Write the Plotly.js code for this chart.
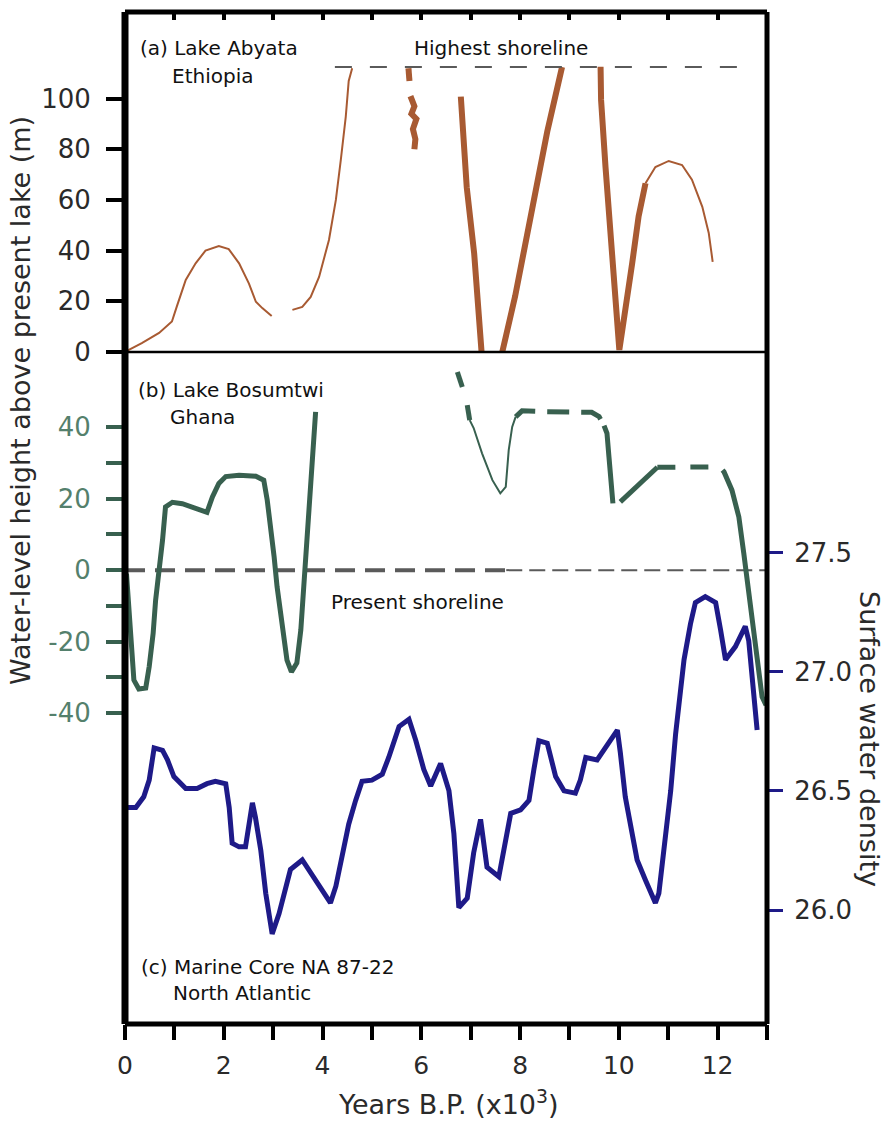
<!DOCTYPE html>
<html>
<head>
<meta charset="utf-8">
<script src="https://cdn.plot.ly/plotly-3.0.1.min.js"></script>
<style>html,body{margin:0;padding:0;background:#fff;}</style>
</head>
<body>
<div id="chart" style="width:888px;height:1123px;"></div>
<script>
// ---------- DATA ----------
// (a) Lake Abyata, Ethiopia  — water level (m above present lake)
const abyataThin1X = [0, 0.34, 0.69, 0.95, 1.05, 1.23, 1.43, 1.63, 1.90, 2.10, 2.31, 2.51, 2.65, 2.78, 2.97];
const abyataThin1Y = [0, 3.5, 7.5, 12, 18, 28.4, 35, 40, 41.8, 40.6, 35, 27, 19.8, 17.3, 14.2];
const abyataThin2X = [3.39, 3.59, 3.76, 3.93, 4.13, 4.27, 4.37, 4.47, 4.53, 4.60];
const abyataThin2Y = [16.6, 17.8, 21.7, 29.6, 44.2, 60, 75.8, 92.8, 107, 112];
const abyataThickAX = [5.74, 5.76];
const abyataThickAY = [112, 107];
const abyataThickBX = [5.78, 5.86, 5.80, 5.90, 5.83, 5.88, 5.86];
const abyataThickBY = [101, 97, 94, 92, 88, 84, 80];
const abyataThickCX = [6.80, 6.82, 6.92, 7.07, 7.17, 7.22];
const abyataThickCY = [100.8, 95.5, 65, 39, 14, 0];
const abyataThickDX = [7.64, 7.90, 8.25, 8.55, 8.85];
const abyataThickDY = [0, 22, 57, 87, 112.5];
const abyataThickEX = [9.63, 9.64, 9.73, 9.83, 9.93, 10.01, 10.08, 10.17, 10.27, 10.40, 10.54];
const abyataThickEY = [112.6, 99.5, 73, 47, 20.5, 0.8, 10, 20.5, 35, 53.5, 66.6];
const abyataThin3X = [10.54, 10.74, 11.01, 11.28, 11.48, 11.69, 11.82, 11.90];
const abyataThin3Y = [66.6, 73, 75.4, 73.8, 68, 57.3, 47, 35.6];
const highestShorelineX = [4.25, 12.75];
const highestShorelineY = [112.5, 112.5];

// (b) Lake Bosumtwi, Ghana — water level (m relative to present shoreline)
const bosumtwi1X = [0.03, 0.08, 0.12, 0.18, 0.28, 0.42, 0.49, 0.57, 0.62, 0.70, 0.76, 0.82, 0.96, 1.16, 1.43, 1.66, 1.77, 1.90, 2.04, 2.31, 2.65, 2.81, 2.88, 2.95, 3.02, 3.08, 3.18, 3.28, 3.37, 3.48, 3.56, 3.62, 3.69, 3.76, 3.81, 3.85, 3.86];
const bosumtwi1Y = [-1, -12, -22.4, -30.8, -33.3, -33, -27, -17.7, -8.4, 0, 8.4, 17.7, 19, 18.6, 17.1, 16.2, 20.5, 24.3, 26.2, 26.6, 26.3, 25.2, 19.6, 12.1, 3.7, -4.7, -14.9, -25.2, -28.5, -26, -16.8, -4.7, 8.4, 20.5, 30, 39.2, 44.3];
const bosumtwi2X = [6.73, 6.83];
const bosumtwi2Y = [55.5, 51.3];
const bosumtwi3X = [6.93, 6.98];
const bosumtwi3Y = [46.2, 42];
const bosumtwiThinX = [6.98, 7.06, 7.23, 7.44, 7.60, 7.71, 7.77, 7.84, 7.91];
const bosumtwiThinY = [42, 39.8, 32.7, 25.2, 21.5, 23.3, 33.6, 40.1, 42.9];
const bosumtwiDash1X = [7.91, 8.04, 8.5, 9.0, 9.45, 9.60, 9.70];
const bosumtwiDash1Y = [42.9, 44.6, 44.4, 44.4, 44.2, 43, 40.5];
const bosumtwi4X = [9.70, 9.76, 9.80, 9.85, 9.88];
const bosumtwi4Y = [40.5, 38.3, 31.7, 25.2, 18.7];
const bosumtwi5X = [10.03, 10.40, 10.78];
const bosumtwi5Y = [19.1, 24, 28.8];
const bosumtwiDash2X = [10.78, 11.3, 11.95];
const bosumtwiDash2Y = [28.8, 28.9, 28.9];
const bosumtwi6X = [12.10, 12.13, 12.29, 12.43, 12.53, 12.60, 12.70, 12.80, 12.90, 12.98];
const bosumtwi6Y = [28, 27.5, 22.4, 14.9, 4.7, -2.8, -14, -25.2, -35.5, -37.8];
const presentShorelineAX = [0, 7.7];
const presentShorelineAY = [0, 0];
const presentShorelineBX = [7.72, 13];
const presentShorelineBY = [0, 0];

// (c) Marine core NA 87-22, North Atlantic — surface water density
const marineX = [0.02, 0.22, 0.38, 0.49, 0.59, 0.76, 0.86, 0.99, 1.23, 1.46, 1.66, 1.83, 2.04, 2.11, 2.17, 2.31, 2.44, 2.58, 2.64, 2.75, 2.85, 2.98, 3.12, 3.25, 3.35, 3.59, 3.79, 4.00, 4.16, 4.27, 4.40, 4.53, 4.67, 4.80, 5.00, 5.21, 5.34, 5.55, 5.75, 5.89, 6.05, 6.19, 6.39, 6.56, 6.66, 6.76, 6.93, 7.06, 7.20, 7.33, 7.57, 7.71, 7.81, 8.01, 8.18, 8.28, 8.38, 8.55, 8.72, 8.89, 9.12, 9.22, 9.33, 9.56, 9.73, 9.97, 10.03, 10.13, 10.27, 10.37, 10.54, 10.74, 10.81, 10.95, 11.05, 11.15, 11.25, 11.32, 11.45, 11.55, 11.75, 11.96, 12.06, 12.16, 12.36, 12.56, 12.63, 12.70, 12.80];
const marineY = [26.43, 26.43, 26.475, 26.545, 26.68, 26.67, 26.63, 26.56, 26.51, 26.51, 26.53, 26.54, 26.53, 26.43, 26.28, 26.265, 26.265, 26.45, 26.39, 26.25, 26.07, 25.90, 25.985, 26.10, 26.17, 26.21, 26.15, 26.08, 26.03, 26.10, 26.24, 26.36, 26.46, 26.54, 26.545, 26.57, 26.64, 26.77, 26.80, 26.71, 26.59, 26.52, 26.615, 26.50, 26.32, 26.01, 26.05, 26.24, 26.38, 26.18, 26.14, 26.29, 26.405, 26.42, 26.46, 26.59, 26.71, 26.70, 26.56, 26.50, 26.49, 26.545, 26.64, 26.63, 26.685, 26.755, 26.66, 26.475, 26.32, 26.21, 26.125, 26.03, 26.07, 26.32, 26.50, 26.74, 26.92, 27.05, 27.20, 27.29, 27.315, 27.29, 27.175, 27.05, 27.105, 27.19, 27.13, 26.99, 26.755];

// tick values and labels
const xTickVals = [0, 2, 4, 6, 8, 10, 12];
const xTickText = ['0', '2', '4', '6', '8', '10', '12'];
const xMinorVals = [1, 3, 5, 7, 9, 11, 13];
const xTopTickVals = [1, 2, 3, 4, 5, 6, 7, 8, 9, 10, 11, 12];
const aTickVals = [0, 20, 40, 60, 80, 100];
const bTickVals = [-40, -20, 0, 20, 40];
const bTickText = ['-40', '-20', '0', '20', '40'];
const bMinorVals = [-30, -10, 10, 30];
const cTickVals = [26.0, 26.5, 27.0, 27.5];
const cTickText = ['26.0', '26.5', '27.0', '27.5'];

// ---------- STYLE ----------
const FONT = 'DejaVu Sans, Verdana, Arial, sans-serif';
const BROWN = '#a85a32';
const GREEN = '#38604f';
const GREEN_LBL = '#54806c';
const NAVY = '#1e1a88';
const GRAY = '#5a5a5a';
const LBL = '#2a2a2a';

const L = 125, R = 121, T = 12, B = 99, W = 888 - L - R, H = 1123 - T - B;
const px = v => (v - L) / W;
const py = v => (1123 - B - v) / H;

function line(x, y, color, width, axis, dash, xa) {
  return {x: x, y: y, type: 'scatter', mode: 'lines', xaxis: xa || 'x', yaxis: axis,
          line: {color: color, width: width, dash: dash || 'solid'}, hoverinfo: 'skip'};
}

const traces = [
  line(highestShorelineX, highestShorelineY, GRAY, 2, 'y', '17px,18px', 'x2'),
  line(abyataThin1X, abyataThin1Y, BROWN, 2, 'y'),
  line(abyataThin2X, abyataThin2Y, BROWN, 2, 'y'),
  line(abyataThickAX, abyataThickAY, BROWN, 6, 'y'),
  line(abyataThickBX, abyataThickBY, BROWN, 6, 'y'),
  line(abyataThickCX, abyataThickCY, BROWN, 6, 'y'),
  line(abyataThickDX, abyataThickDY, BROWN, 6, 'y'),
  line(abyataThickEX, abyataThickEY, BROWN, 6, 'y'),
  line(abyataThin3X, abyataThin3Y, BROWN, 2, 'y'),

  line(presentShorelineAX, presentShorelineAY, GRAY, 4, 'y2', '20px,10px'),
  line(presentShorelineBX, presentShorelineBY, GRAY, 2, 'y2', '16px,7px'),
  line(bosumtwi1X, bosumtwi1Y, GREEN, 5, 'y2'),
  line(bosumtwi2X, bosumtwi2Y, GREEN, 5, 'y2'),
  line(bosumtwi3X, bosumtwi3Y, GREEN, 5, 'y2'),
  line(bosumtwiThinX, bosumtwiThinY, GREEN, 2, 'y2'),
  line(bosumtwiDash1X, bosumtwiDash1Y, GREEN, 5, 'y2', '22px,12px'),
  line(bosumtwi4X, bosumtwi4Y, GREEN, 5, 'y2'),
  line(bosumtwi5X, bosumtwi5Y, GREEN, 5, 'y2'),
  line(bosumtwiDash2X, bosumtwiDash2Y, GREEN, 5, 'y2', '18px,15px'),
  line(bosumtwi6X, bosumtwi6Y, GREEN, 5, 'y2'),

  line(marineX, marineY, NAVY, 5, 'y3')
];

function ann(text, x, y, size, xanchor, angle, color) {
  return {text: text, xref: 'paper', yref: 'paper', x: px(x), y: py(y),
          xanchor: xanchor || 'left', yanchor: 'middle', showarrow: false,
          textangle: angle || 0, font: {family: FONT, size: size, color: color || '#111'}};
}

const layout = {
  width: 888, height: 1123,
  margin: {l: L, r: R, t: T, b: B, pad: 0},
  paper_bgcolor: '#fff', plot_bgcolor: '#fff',
  showlegend: false,
  font: {family: FONT, color: LBL},
  xaxis: {range: [0, 13], tickmode: 'array', tickvals: xTickVals, ticktext: xTickText, ticks: 'outside',
          ticklen: 15, tickwidth: 4, tickcolor: '#000', showline: false, zeroline: false,
          showgrid: false, tickfont: {family: FONT, size: 25, color: LBL}, ticklabelstandoff: 4,
          minor: {tickmode: 'array', tickvals: xMinorVals, ticks: 'outside', ticklen: 15, tickwidth: 4,
                  tickcolor: '#000', showgrid: false}},
  xaxis2: {range: [0, 13], overlaying: 'x', side: 'top', anchor: 'y', tickmode: 'array', tickvals: xTopTickVals,
           ticks: 'inside', ticklen: 8, tickwidth: 4, tickcolor: '#000', showticklabels: false,
           showline: false, zeroline: false, showgrid: false},
  yaxis: {range: [-265.3, 134.2], tickmode: 'array', tickvals: aTickVals, ticks: 'outside', ticklen: 18, tickwidth: 4,
          tickcolor: '#000', showline: false, zeroline: false, showgrid: false,
          tickfont: {family: FONT, size: 26, color: LBL}, ticklabelstandoff: 10},
  yaxis2: {range: [-127.1, 156.3], overlaying: 'y', side: 'left', anchor: 'x', tickmode: 'array',
           tickvals: bTickVals, ticktext: bTickText, ticks: 'outside', ticklen: 18, tickwidth: 4,
           tickcolor: GREEN, showline: false, zeroline: false, showgrid: false,
           tickfont: {family: FONT, size: 26, color: GREEN_LBL}, ticklabelstandoff: 10,
           minor: {tickmode: 'array', tickvals: bMinorVals, ticks: 'outside', ticklen: 18, tickwidth: 4,
                   tickcolor: GREEN, showgrid: false}},
  yaxis3: {range: [25.522, 29.767], overlaying: 'y', side: 'right', anchor: 'x', tickmode: 'array',
           tickvals: cTickVals, ticktext: cTickText, ticks: 'outside', ticklen: 15, tickwidth: 3,
           tickcolor: NAVY, showline: false, zeroline: false, showgrid: false,
           tickfont: {family: FONT, size: 26, color: LBL}, ticklabelstandoff: 6},
  shapes: [
    {type: 'line', xref: 'paper', yref: 'paper', x0: 0, x1: 0, y0: 0, y1: 1, line: {color: '#000', width: 7}},
    {type: 'line', xref: 'paper', yref: 'paper', x0: 0, x1: 1, y0: 0, y1: 0, line: {color: '#000', width: 5}},
    {type: 'line', xref: 'paper', yref: 'paper', x0: 1, x1: 1, y0: 0, y1: 1, line: {color: '#000', width: 5}},
    {type: 'line', xref: 'paper', yref: 'paper', x0: 0, x1: 1, y0: 1, y1: 1, line: {color: '#000', width: 5}},
    {type: 'line', xref: 'paper', yref: 'y', x0: 0, x1: 1, y0: 0, y1: 0, line: {color: '#000', width: 2.5}}
  ],
  annotations: [
    ann('(a) Lake Abyata', 138, 48, 20),
    ann('Ethiopia', 170, 76, 20),
    ann('Highest shoreline', 412, 48, 20),
    ann('(b) Lake Bosumtwi', 136, 390, 20),
    ann('Ghana', 168, 417, 20),
    ann('Present shoreline', 329, 602, 20),
    ann('(c) Marine Core NA 87-22', 139, 967, 20),
    ann('North Atlantic', 171, 993, 20),
    ann('Water-level height above present lake (m)', 20, 401, 27, 'center', -90, LBL),
    ann('Surface water density', 870, 739, 27, 'center', 90, LBL),
    ann('Years B.P. (x10<sup>3</sup>)', 449, 1103, 27, 'center', 0, LBL)
  ]
};

Plotly.newPlot('chart', traces, layout, {displayModeBar: false, staticPlot: true});
</script>
</body>
</html>
